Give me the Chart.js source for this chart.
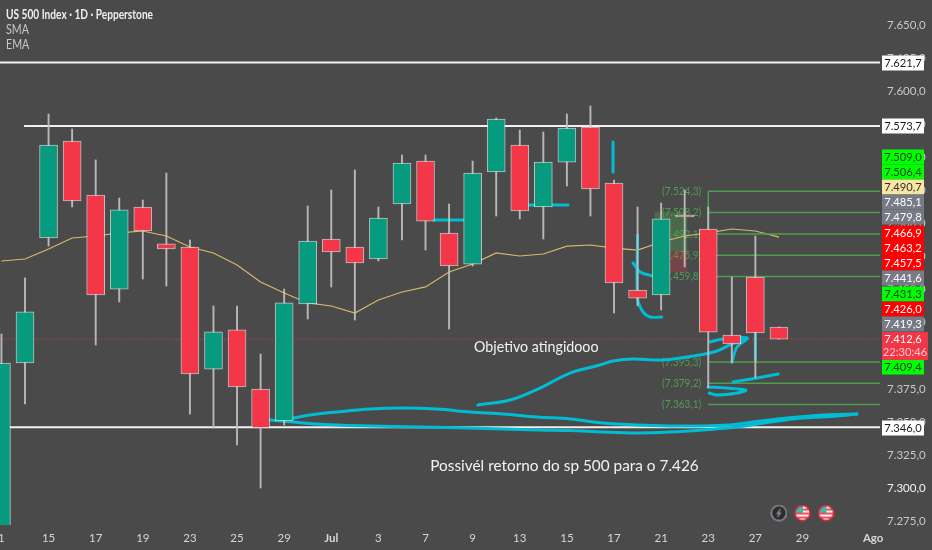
<!DOCTYPE html>
<html lang="pt">
<head>
    <meta charset="UTF-8">
    <title>US 500 Index 1D</title>
    <script src="https://cdn.jsdelivr.net/npm/chart.js"></script>
    <style>
        html, body { margin: 0; padding: 0; background: #4a4a4a; overflow: hidden; }
        canvas { display: block; }
    </style>
</head>
<body>
    <canvas id="chart" width="932" height="550"></canvas>
    <script>
        // candles, one per session
        const opens  = [7260, 7394.5, 7489.0, 7562.3, 7521.5, 7450.4, 7512.4, 7484.5, 7482.2, 7389.9, 7419.5, 7374.8, 7350.7, 7439.1, 7488.2, 7482.2, 7473.1, 7514.7, 7547.2, 7492.8, 7469.3, 7538.9, 7559.3, 7512.4, 7546.4, 7572.9, 7530.6, 7449.7, 7445.9, 7506.0, 7495.8, 7415.7, 7459.5, 7421.7];
        const highs  = [7416.4, 7458.8, 7582.7, 7571.4, 7548.0, 7519.2, 7517.7, 7538.1, 7487.5, 7437.6, 7437.6, 7401.3, 7450.4, 7513.2, 7525.3, 7540.4, 7512.4, 7551.7, 7551.7, 7514.7, 7547.2, 7579.7, 7570.6, 7569.1, 7582.7, 7588.8, 7532.8, 7512.4, 7515.4, 7525.3, 7512.4, 7459.5, 7490.5, 7421.7];
        const lows   = [7255, 7363.5, 7482.9, 7512.4, 7408.1, 7440.6, 7458.0, 7452.7, 7355.9, 7345.4, 7332.5, 7300.0, 7347.6, 7427.8, 7452.0, 7427.0, 7471.6, 7487.5, 7479.9, 7420.2, 7467.8, 7505.6, 7503.4, 7488.2, 7528.3, 7505.6, 7432.3, 7437.6, 7434.6, 7467.1, 7375.6, 7394.5, 7383.2, 7412.6];
        const closes = [7394.5, 7433.1, 7559.3, 7517.0, 7445.9, 7510.2, 7494.3, 7480.7, 7386.2, 7418.0, 7376.4, 7345.4, 7439.9, 7486.7, 7478.4, 7470.1, 7504.1, 7545.7, 7501.8, 7467.8, 7538.1, 7578.9, 7509.4, 7546.4, 7572.1, 7526.0, 7455.0, 7443.6, 7503.4, 7504.9, 7417.9, 7408.9, 7417.2, 7412.6];
        const maLine = [7471.6, 7473.1, 7480.7, 7489.0, 7490.5, 7492.8, 7494.3, 7490.5, 7482.2, 7477.7, 7468.6, 7455.7, 7447.4, 7439.9, 7437.6, 7432.3, 7442.1, 7448.2, 7452.0, 7463.3, 7469.3, 7477.7, 7475.4, 7476.9, 7482.9, 7483.7, 7481.4, 7479.9, 7486.0, 7490.5, 7492.8, 7495.8, 7494.3, 7489.7];

        const xTickIndex = [0, 2, 4, 6, 8, 10, 12, 14, 16, 18, 20, 22, 24, 26, 28, 30, 32, 34, 37];
        const xTickText  = ['1', '15', '17', '19', '23', '25', '29', 'Jul', '3', '7', '9', '13', '15', '17', '21', '23', '27', '29', 'Ago'];
        const yTicks = [7650, 7625, 7600, 7575, 7550, 7525, 7500, 7475, 7450, 7425, 7400, 7375, 7350, 7325, 7300, 7275];

        // white levels
        const levelPrices = [7621.7, 7573.7, 7346.0];
        const levelStarts = [-0.1, 0.96, 0];
        const lastPrice = 7412.6;

        // fib tool
        const fibPrices = [7524.3, 7508.2, 7492.1, 7475.9, 7459.8, 7395.3, 7379.2, 7363.1];
        const fibText   = ['(7.524,3)', '(7.508,2)', '(7.492,1)', '(7.475,9)', '(7.459,8)', '(7.395,3)', '(7.379,2)', '(7.363,1)'];
        const fibStart = 30;
        const fibStemEnd = 7495.8;

        // position tool behind the 21 candle
        const tintIndex = 28.42;
        const tintGreen = [7479.2, 7508.6];
        const tintRed   = [7463.3, 7479.2];

        // hand drawn strokes, [bar index, price]
        const strokeArcTop = [[12.37, 7352.9], [13.10, 7355.2], [14.25, 7357.5], [15.64, 7359.7], [17.05, 7360.5], [18.49, 7359.7], [19.89, 7357.5], [21.29, 7355.9], [22.73, 7353.7], [24.13, 7352.2], [25.53, 7349.2], [26.98, 7347.6], [28.37, 7346.9], [29.78, 7346.9], [30.79, 7347.6], [31.90, 7349.9], [33.34, 7352.9], [34.87, 7355.2], [36.31, 7355.9]];
        const strokeArcLow = [[11.40, 7351.4], [12.80, 7349.2], [14.25, 7347.6], [15.64, 7346.9], [17.76, 7346.1], [19.89, 7345.4], [22.73, 7343.9], [24.13, 7343.5], [25.53, 7342.3], [26.98, 7341.6], [28.37, 7342.3], [29.78, 7343.9], [31.22, 7346.1], [32.63, 7349.9], [34.02, 7352.9], [35.47, 7354.4], [36.31, 7355.9]];
        const strokeRise = [[20.22, 7362.8], [21.59, 7366.5], [22.86, 7375.6], [24.13, 7386.9], [25.40, 7393.0], [25.96, 7396.0], [26.81, 7397.5], [28.08, 7396.8], [29.65, 7400.6], [30.37, 7403.6], [31.01, 7408.9], [31.65, 7413.4]];
        const strokeArrow = [[30.08, 7410.4], [30.62, 7412.7], [31.65, 7413.4], [31.22, 7406.6], [31.01, 7395.3]];
        const strokeDash = [[31.05, 7380.1], [32.07, 7383.2], [32.97, 7386.2]];
        const strokeWick = [[32, 7417.2], [32, 7396.8]];
        const strokeLoop = [[29.99, 7376.4], [30.79, 7375.6], [31.60, 7374.1], [31.22, 7371.8], [30.37, 7370.3], [30.04, 7371.8]];
        const strokeTick = [[25.96, 7561.6], [25.96, 7538.9]];
        const strokeBarA = [[18.32, 7502.6], [19.59, 7502.6]];
        const strokeBarB = [[22.35, 7513.9], [24.05, 7513.9]];
        const strokeHook = [[27, 7491.3], [27, 7443.6], [27.23, 7433.1], [27.53, 7429.3], [28.03, 7429.3]];
        const strokeHook2 = [[26.81, 7470.1], [27.11, 7463.3], [27.62, 7460.3]];
        const allStrokes = [strokeArcTop, strokeArcLow, strokeRise, strokeArrow, strokeDash, strokeWick, strokeLoop, strokeTick, strokeBarA, strokeBarB, strokeHook, strokeHook2];

        // events on the bottom of the pane
        const eventIndex = [33, 34, 35];
        const eventPrice = 7281.1;

        // right side price boxes
        const boxText = ['7.621,7', '7.573,7', '7.509,0', '7.506,4', '7.490,7', '7.485,1', '7.479,8', '7.466,9', '7.463,2', '7.457,5', '7.441,6', '7.431,3', '7.426,0', '7.419,3', '7.409,4', '7.346,0'];
        const boxKind = ['white', 'white', 'lime', 'lime', 'cream', 'grey', 'grey', 'red', 'red', 'red', 'grey', 'lime', 'red', 'grey', 'lime', 'white'];
        const boxRowY = [63, 126, 157, 172, 187, 202, 217, 233, 248, 263, 278, 294, 309, 324, 367, 428];
        const lastText = '7.412,6';
        const lastCountdown = '22:30:46';

        const boxColors = {
            white: ['#ffffff', '#1a1a1a'],
            lime: ['#00ff00', '#0b3b0b'],
            cream: ['#f5e6a0', '#3a2a3a'],
            grey: ['#787b86', '#ffffff'],
            red: ['#ff0000', '#ffffff']
        };

        const FONT = 'Lato, "Noto Sans", sans-serif';
        const pairs = arr => arr.map(p => ({ x: p[0], y: p[1] }));
        const bullish = i => closes[i] >= opens[i];

        function lineSet(data, color, width, order, extra) {
            return Object.assign({
                type: 'line', data: data, borderColor: color, borderWidth: width,
                pointRadius: 0, fill: false, order: order, tension: 0
            }, extra || {});
        }

        // the reference text is narrower than Lato, squeeze it a bit
        function narrowText(ctx, text, x, y, sx) {
            ctx.save();
            ctx.translate(x, y);
            ctx.scale(sx, 1);
            ctx.fillText(text, 0, 0);
            ctx.restore();
        }

        function flagIcon() {
            const c = document.createElement('canvas');
            c.width = 17; c.height = 17;
            const g = c.getContext('2d');
            g.save();
            g.beginPath(); g.arc(8.5, 8.5, 7, 0, Math.PI * 2); g.clip();
            g.fillStyle = '#f5f5f5'; g.fillRect(0, 0, 17, 17);
            g.fillStyle = '#f0505f';
            g.fillRect(0, 8, 17, 2); g.fillRect(0, 12, 17, 2); g.fillRect(8, 4, 9, 2);
            g.fillStyle = '#3fb8a8'; g.fillRect(0, 0, 9, 8);
            g.restore();
            g.strokeStyle = '#e5283c'; g.lineWidth = 1.5;
            g.beginPath(); g.arc(8.5, 8.5, 7.5, 0, Math.PI * 2); g.stroke();
            return c;
        }

        function boltIcon() {
            const c = document.createElement('canvas');
            c.width = 17; c.height = 17;
            const g = c.getContext('2d');
            g.fillStyle = '#2c2c30';
            g.beginPath(); g.arc(8.5, 8.5, 7.5, 0, Math.PI * 2); g.fill();
            g.strokeStyle = '#a8a8ae'; g.lineWidth = 1.2; g.stroke();
            g.strokeStyle = '#a0a0a5';
            g.beginPath(); g.moveTo(10, 4.5); g.lineTo(7, 9); g.lineTo(10, 8.5); g.lineTo(7, 12.5); g.stroke();
            return c;
        }

        // plot runs edge to edge, no padding for the tick labels
        const fullPane = {
            id: 'fullPane',
            afterLayout(chart) {
                const x = chart.scales.x, y = chart.scales.y, a = chart.chartArea;
                a.left = 0; a.top = 0; a.right = 880; a.bottom = 525; a.width = 880; a.height = 525;
                x.left = 0; x.right = 880; x.width = 880;
                y.top = 0; y.bottom = 525; y.height = 525;
                x.configure();
                y.configure();
            }
        };

        // fib prices sit under the candles
        const underCandles = {
            id: 'underCandles',
            beforeDatasetsDraw(chart) {
                const ctx = chart.ctx, x = chart.scales.x, y = chart.scales.y;
                ctx.save();
                ctx.font = '12px ' + FONT;
                ctx.fillStyle = '#4f9d4f';
                ctx.textAlign = 'right';
                ctx.textBaseline = 'middle';
                fibPrices.forEach((p, i) => narrowText(ctx, fibText[i], x.getPixelForValue(fibStart) - 7, y.getPixelForValue(p), 0.84));
                ctx.restore();
            }
        };

        const overlayText = {
            id: 'overlayText',
            afterDraw(chart) {
                const ctx = chart.ctx, x = chart.scales.x, y = chart.scales.y;
                ctx.save();
                ctx.textBaseline = 'middle';
                // header
                ctx.textAlign = 'left';
                ctx.font = 'bold 13px ' + FONT;
                ctx.fillStyle = '#eeeeee';
                narrowText(ctx, 'US 500 Index · 1D · Pepperstone', 6, 15, 0.78);
                ctx.font = '13px ' + FONT;
                ctx.fillStyle = '#c8c8c8';
                narrowText(ctx, 'SMA', 6, 30, 0.82);
                narrowText(ctx, 'EMA', 6, 45, 0.82);
                // notes on the chart
                ctx.fillStyle = '#f2f2f2';
                ctx.textAlign = 'center';
                ctx.font = '16px ' + FONT;
                narrowText(ctx, 'Objetivo atingidooo', x.getPixelForValue(22.7), y.getPixelForValue(7406.6), 0.89);
                narrowText(ctx, 'Possivél retorno do sp 500 para o 7.426', x.getPixelForValue(23.9), y.getPixelForValue(7316.6), 0.96);
                // price boxes
                ctx.font = '12px ' + FONT;
                boxText.forEach((t, i) => {
                    const c = boxColors[boxKind[i]];
                    ctx.fillStyle = c[0];
                    ctx.fillRect(882, boxRowY[i] - 7.5, 42, 15);
                    ctx.fillStyle = c[1];
                    narrowText(ctx, t, 903, boxRowY[i], 0.93);
                });
                ctx.fillStyle = '#f23645';
                ctx.fillRect(882, 332, 46, 28);
                ctx.fillStyle = '#ffffff';
                narrowText(ctx, lastText, 903, 339, 0.93);
                ctx.fillStyle = '#ffc9cd';
                narrowText(ctx, lastCountdown, 905, 352, 0.93);
                ctx.restore();
            }
        };

        const barIndex = opens.map((o, i) => i);
        const datasets = [
            { type: 'bar', data: [{ x: tintIndex, y: tintGreen }], backgroundColor: 'rgba(76,175,80,0.3)', barThickness: 32, grouped: false, order: 30 },
            { type: 'bar', data: [{ x: tintIndex, y: tintRed }], backgroundColor: 'rgba(242,54,69,0.25)', barThickness: 32, grouped: false, order: 30 },
            lineSet(barIndex.map(i => ({ x: i, y: maLine[i] })), '#d8b96a', 1.2, 20),
            lineSet([{ x: -0.1, y: lastPrice }, { x: 38, y: lastPrice }], 'rgba(242,54,69,0.85)', 1, 19, { borderDash: [1, 2] }),
            lineSet([{ x: fibStart, y: fibPrices[0] }, { x: fibStart, y: fibStemEnd }], '#4f9d4f', 1.5, 15)
        ];
        fibPrices.forEach(p => datasets.push(lineSet([{ x: fibStart, y: p }, { x: 38, y: p }], '#4f9d4f', 1.5, 15)));
        levelPrices.forEach((p, i) => datasets.push(lineSet([{ x: levelStarts[i], y: p }, { x: 38, y: p }], '#f0f0f0', 2, 12)));
        allStrokes.forEach(s => datasets.push(lineSet(pairs(s), '#00bcd4', 3, 10, { tension: 0.35, borderCapStyle: 'round', borderJoinStyle: 'round' })));
        // wicks then bodies
        datasets.push({
            type: 'bar', data: barIndex.map(i => ({ x: i, y: [lows[i], highs[i]] })),
            backgroundColor: 'rgba(195,195,195,0.9)', barThickness: 1.25, grouped: false, order: 5
        });
        datasets.push({
            type: 'bar', data: barIndex.map(i => ({ x: i, y: [opens[i], closes[i]] })),
            backgroundColor: barIndex.map(i => bullish(i) ? '#069b7f' : '#f43649'),
            borderColor: 'rgba(255,255,255,0.65)', borderWidth: 1, borderSkipped: false,
            barThickness: 18, minBarLength: 2, grouped: false, order: 4
        });
        datasets.push({
            type: 'scatter', data: eventIndex.map(i => ({ x: i, y: eventPrice })),
            pointStyle: [boltIcon(), flagIcon(), flagIcon()], pointRadius: 8, order: 1
        });

        new Chart(document.getElementById('chart'), {
            type: 'bar',
            data: { datasets: datasets },
            options: {
                responsive: false,
                animation: false,
                layout: { padding: 0 },
                plugins: { legend: { display: false }, tooltip: { enabled: false } },
                scales: {
                    x: {
                        type: 'linear', min: -0.061, max: 37.29, offset: false,
                        grid: { display: false, drawTicks: false }, border: { display: false },
                        afterFit(s) { s.height = 25; },
                        afterBuildTicks(s) { s.ticks = xTickIndex.map(v => ({ value: v })); },
                        ticks: {
                            padding: 6, maxRotation: 0, autoSkip: false, color: '#d6d6d6',
                            font: c => ({ family: FONT, size: 11.5, weight: (c.tick && (c.tick.value === 14 || c.tick.value === 37)) ? 'bold' : 'normal' }),
                            callback: v => xTickText[xTickIndex.indexOf(v)]
                        }
                    },
                    y: {
                        type: 'linear', position: 'right', min: 7272.05, max: 7668.9,
                        grid: { display: false, drawTicks: false }, border: { display: false },
                        afterFit(s) { s.width = 52; },
                        afterBuildTicks(s) { s.ticks = yTicks.map(v => ({ value: v })); },
                        ticks: {
                            padding: 7, autoSkip: false, color: c => (c.tick && c.tick.value === 7300) ? '#f4f4f4' : '#c9c9c9',
                            font: { family: FONT, size: 11.5 },
                            callback: v => v.toLocaleString('pt-BR', { minimumFractionDigits: 1 })
                        }
                    }
                }
            },
            plugins: [fullPane, underCandles, overlayText]
        });
    </script>
</body>
</html>
